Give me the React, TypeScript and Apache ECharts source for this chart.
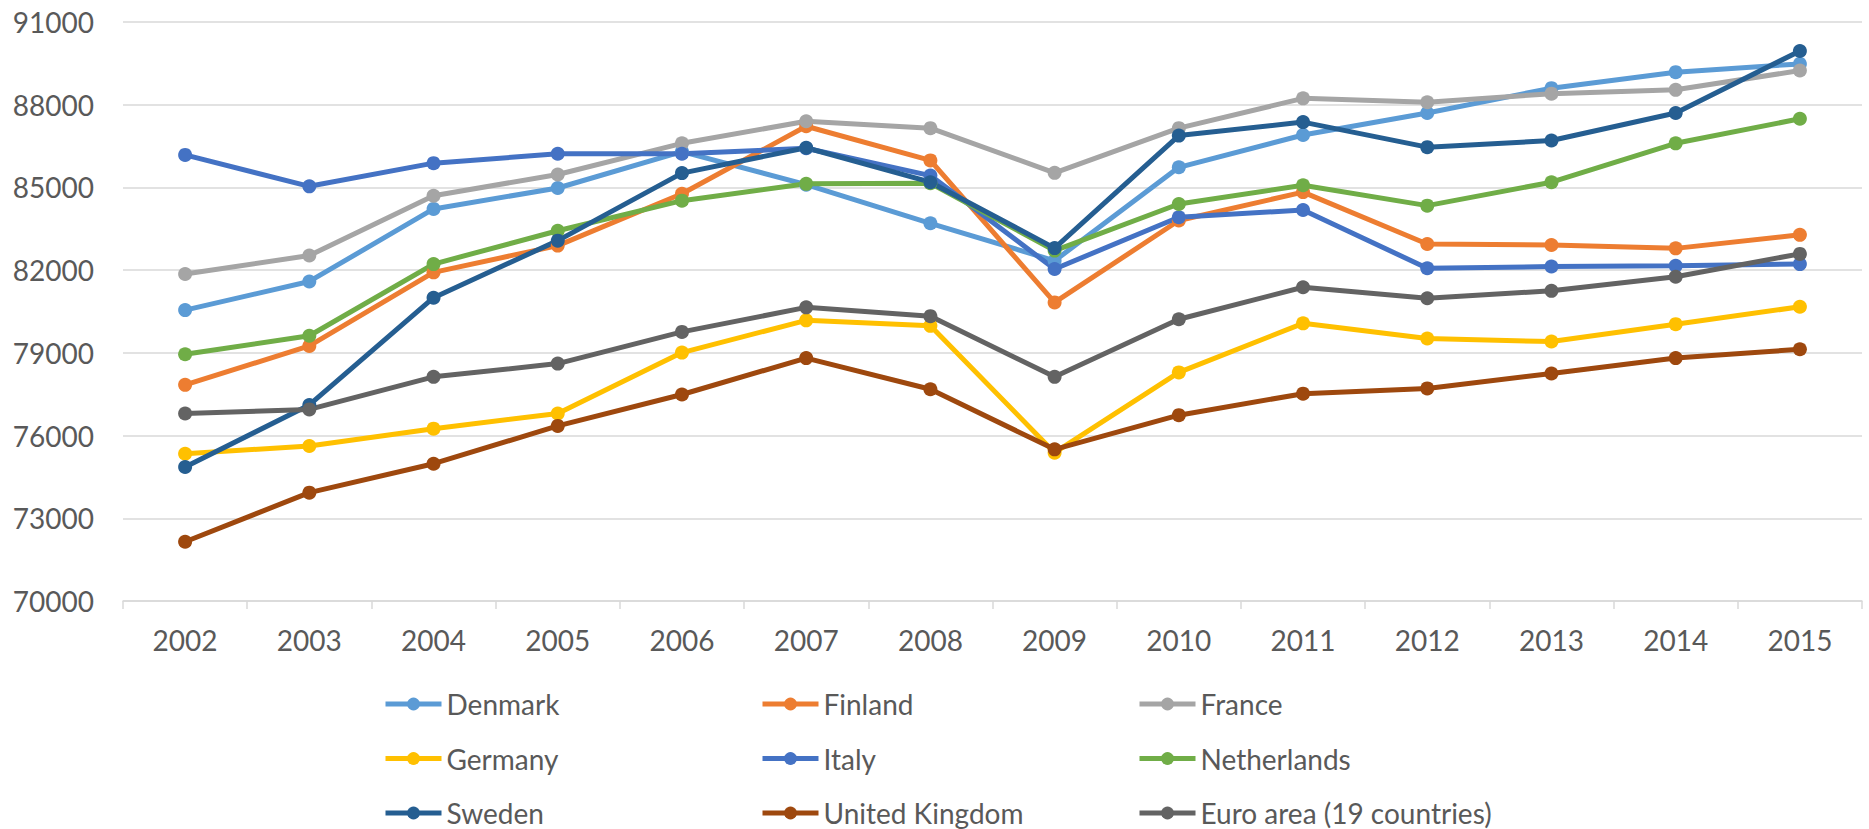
import React, { useEffect, useRef } from "react";
import * as echarts from "echarts";

const years = ["2002", "2003", "2004", "2005", "2006", "2007", "2008", "2009", "2010", "2011", "2012", "2013", "2014", "2015"];
const yTicks = [70000, 73000, 76000, 79000, 82000, 85000, 88000, 91000];

const denmark = [80550, 81590, 84220, 84980, 86300, 85100, 83700, 82340, 85730, 86900, 87700, 88600, 89180, 89480];
const finland = [77840, 79250, 81920, 82890, 84770, 87220, 85980, 80830, 83800, 84830, 82950, 82910, 82790, 83280];
const france = [81860, 82530, 84700, 85470, 86600, 87400, 87150, 85530, 87150, 88230, 88090, 88400, 88540, 89240];
const germany = [75340, 75620, 76250, 76800, 79010, 80180, 79980, 75380, 78290, 80070, 79520, 79410, 80040, 80670];
const italy = [86180, 85040, 85880, 86220, 86220, 86420, 85430, 82040, 83920, 84180, 82070, 82130, 82160, 82220];
const netherlands = [78950, 79620, 82220, 83430, 84520, 85130, 85150, 82710, 84400, 85080, 84340, 85190, 86600, 87490];
const sweden = [74860, 77110, 81000, 83070, 85520, 86440, 85190, 82800, 86880, 87370, 86460, 86700, 87700, 89950];
const uk = [72150, 73930, 74980, 76350, 77490, 78810, 77680, 75500, 76740, 77520, 77710, 78250, 78810, 79130];
const euroArea = [76800, 76950, 78130, 78610, 79760, 80650, 80330, 78130, 80220, 81380, 80980, 81250, 81760, 82590];

const seriesDefs = [
  { name: "Denmark", data: denmark, color: "#5B9BD5" },
  { name: "Finland", data: finland, color: "#ED7D31" },
  { name: "France", data: france, color: "#A5A5A5" },
  { name: "Germany", data: germany, color: "#FFC000" },
  { name: "Italy", data: italy, color: "#4472C4" },
  { name: "Netherlands", data: netherlands, color: "#70AD47" },
  { name: "Sweden", data: sweden, color: "#255E91" },
  { name: "United Kingdom", data: uk, color: "#9E480E" },
  { name: "Euro area (19 countries)", data: euroArea, color: "#636363" },
];

const legendColumns = [
  ["Denmark", "Germany", "Sweden"],
  ["Finland", "Italy", "United Kingdom"],
  ["France", "Netherlands", "Euro area (19 countries)"],
];
const legendLefts = [383, 760, 1137];

const FONT = "Lato, 'Open Sans', sans-serif";
const TEXT_COLOR = "#595959";
const GRID_COLOR = "#D9D9D9";

export default function App() {
  const ref = useRef<HTMLDivElement>(null);

  useEffect(() => {
    if (!ref.current) return;
    const chart = echarts.init(ref.current, undefined, { renderer: "svg" });
    chart.setOption({
      animation: false,
      backgroundColor: "#ffffff",
      textStyle: { fontFamily: FONT },
      grid: { left: 123, right: 7, top: 22, bottom: 228, containLabel: false },
      xAxis: {
        type: "category",
        data: years,
        boundaryGap: true,
        axisLine: { show: true, lineStyle: { color: GRID_COLOR, width: 1.5 } },
        axisTick: { show: true, length: 8, lineStyle: { color: GRID_COLOR, width: 1.5 } },
        axisLabel: { color: TEXT_COLOR, fontSize: 28, fontFamily: FONT, margin: 25, lineHeight: 28 },
        splitLine: { show: false },
      },
      yAxis: {
        type: "value",
        min: 70000,
        max: 91000,
        axisLine: { show: false },
        axisTick: { show: false, customValues: yTicks },
        axisLabel: {
          color: TEXT_COLOR,
          fontSize: 28,
          fontFamily: FONT,
          margin: 29,
          customValues: yTicks,
          formatter: (v: number) => String(v),
        },
        splitLine: { show: true, lineStyle: { color: GRID_COLOR, width: 1.5 } },
      },
      legend: legendColumns.map((col, i) => ({
        data: col,
        orient: "vertical",
        left: legendLefts[i],
        top: 690,
        itemWidth: 56,
        itemHeight: 16,
        itemGap: 26.5,
        padding: 0,
        lineStyle: { width: 5 },
        textStyle: { color: TEXT_COLOR, fontSize: 28, fontFamily: FONT, lineHeight: 28 },
      })),
      series: seriesDefs.map((s) => ({
        name: s.name,
        type: "line",
        data: s.data,
        symbol: "circle",
        symbolSize: 14,
        color: s.color,
        lineStyle: { width: 5, color: s.color },
        itemStyle: { color: s.color },
      })),
    });
    return () => chart.dispose();
  }, []);

  return (
    <div
      ref={ref}
      style={{ position: "fixed", left: 0, top: 0, width: 1869, height: 829, background: "#fff" }}
    />
  );
}
